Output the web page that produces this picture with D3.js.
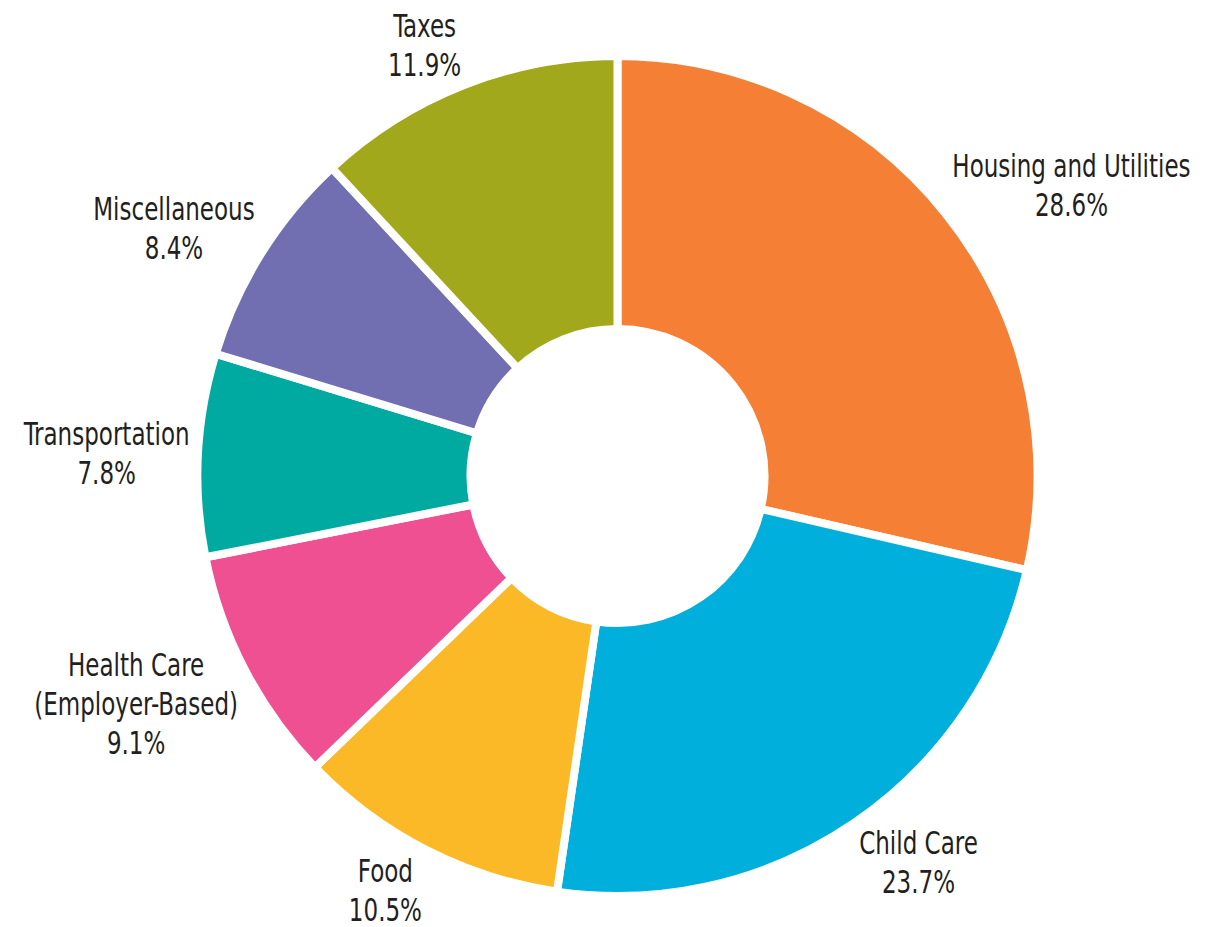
<!DOCTYPE html>
<html>
<head>
<meta charset="utf-8">
<script src="https://cdn.jsdelivr.net/npm/d3@7"></script>
<style>
  body { margin: 0; background: #fff; }
  text { font-family: "DejaVu Sans", "Noto Sans", sans-serif; font-stretch: condensed; font-size: 32px; fill: #231f20; }
</style>
</head>
<body>
<div id="viz"></div>
<script>
// categories go clockwise from 12 o'clock
var categories = ["Housing and Utilities", "Child Care", "Food", "Health Care\n(Employer-Based)",
                  "Transportation", "Miscellaneous", "Taxes"];
var shares = [28.6, 23.7, 10.5, 9.1, 7.8, 8.4, 11.9];
var colors = ["#f47f35", "#00afdb", "#fbb827", "#ee5092", "#00aaa0", "#716eb2", "#a2a81b"];

var width = 1228,
    height = 927,
    cx = 617.5,
    cy = 476,
    outerR = 420,
    innerR = 147,
    labelR = 428,
    lineH = 39,
    squeeze = 0.8;   // the reference font is narrower than anything installed

var data = categories.map(function(c, i) {
  return { name: c, value: shares[i], color: colors[i] };
});

var svg = d3.select("#viz").append("svg")
    .attr("width", width)
    .attr("height", height)
  .append("g")
    .attr("transform", "translate(" + cx + "," + cy + ")");

var pie = d3.pie()
    .value(function(d) { return d.value; })
    .sort(null);

var arc = d3.arc()
    .innerRadius(innerR)
    .outerRadius(outerR);

var arcs = pie(data);

// slices, white stroke makes the gaps
svg.selectAll("path.slice")
    .data(arcs)
  .enter().append("path")
    .attr("class", "slice")
    .attr("d", arc)
    .attr("fill", function(d) { return d.data.color; })
    .attr("stroke", "#fff")
    .attr("stroke-width", 8)
    .attr("stroke-linejoin", "miter");

// labels
var labels = svg.selectAll("g.label")
    .data(arcs)
  .enter().append("g")
    .attr("class", "label");

labels.each(function(d) {
  var g = d3.select(this);
  var lines = d.data.name.split("\n").concat([d.data.value.toFixed(1) + "%"]);
  var inner = g.append("g").attr("transform", "scale(" + squeeze + ",1)");
  lines.forEach(function(t, i) {
    inner.append("text")
        .attr("text-anchor", "middle")
        .attr("x", 0)
        .attr("y", (i - (lines.length - 1) / 2) * lineH)
        .attr("dy", "0.36em")
        .text(t);
  });

  // place box next to the ring along the slice's middle angle
  var a = (d.startAngle + d.endAngle) / 2;
  var bb = inner.node().getBBox();
  var hw = bb.width * squeeze / 2,
      hh = lines.length * lineH / 2 - 6;
  var ax = Math.sin(a) * labelR,
      ay = -Math.cos(a) * labelR;
  var fy = Math.max(-1, Math.min(1, -Math.cos(a) * 1.2));
  var x = ax + (Math.sin(a) >= 0 ? 1 : -1) * hw,
      y = ay + fy * hh;
  g.attr("transform", "translate(" + x + "," + y + ")");
});
</script>
</body>
</html>
